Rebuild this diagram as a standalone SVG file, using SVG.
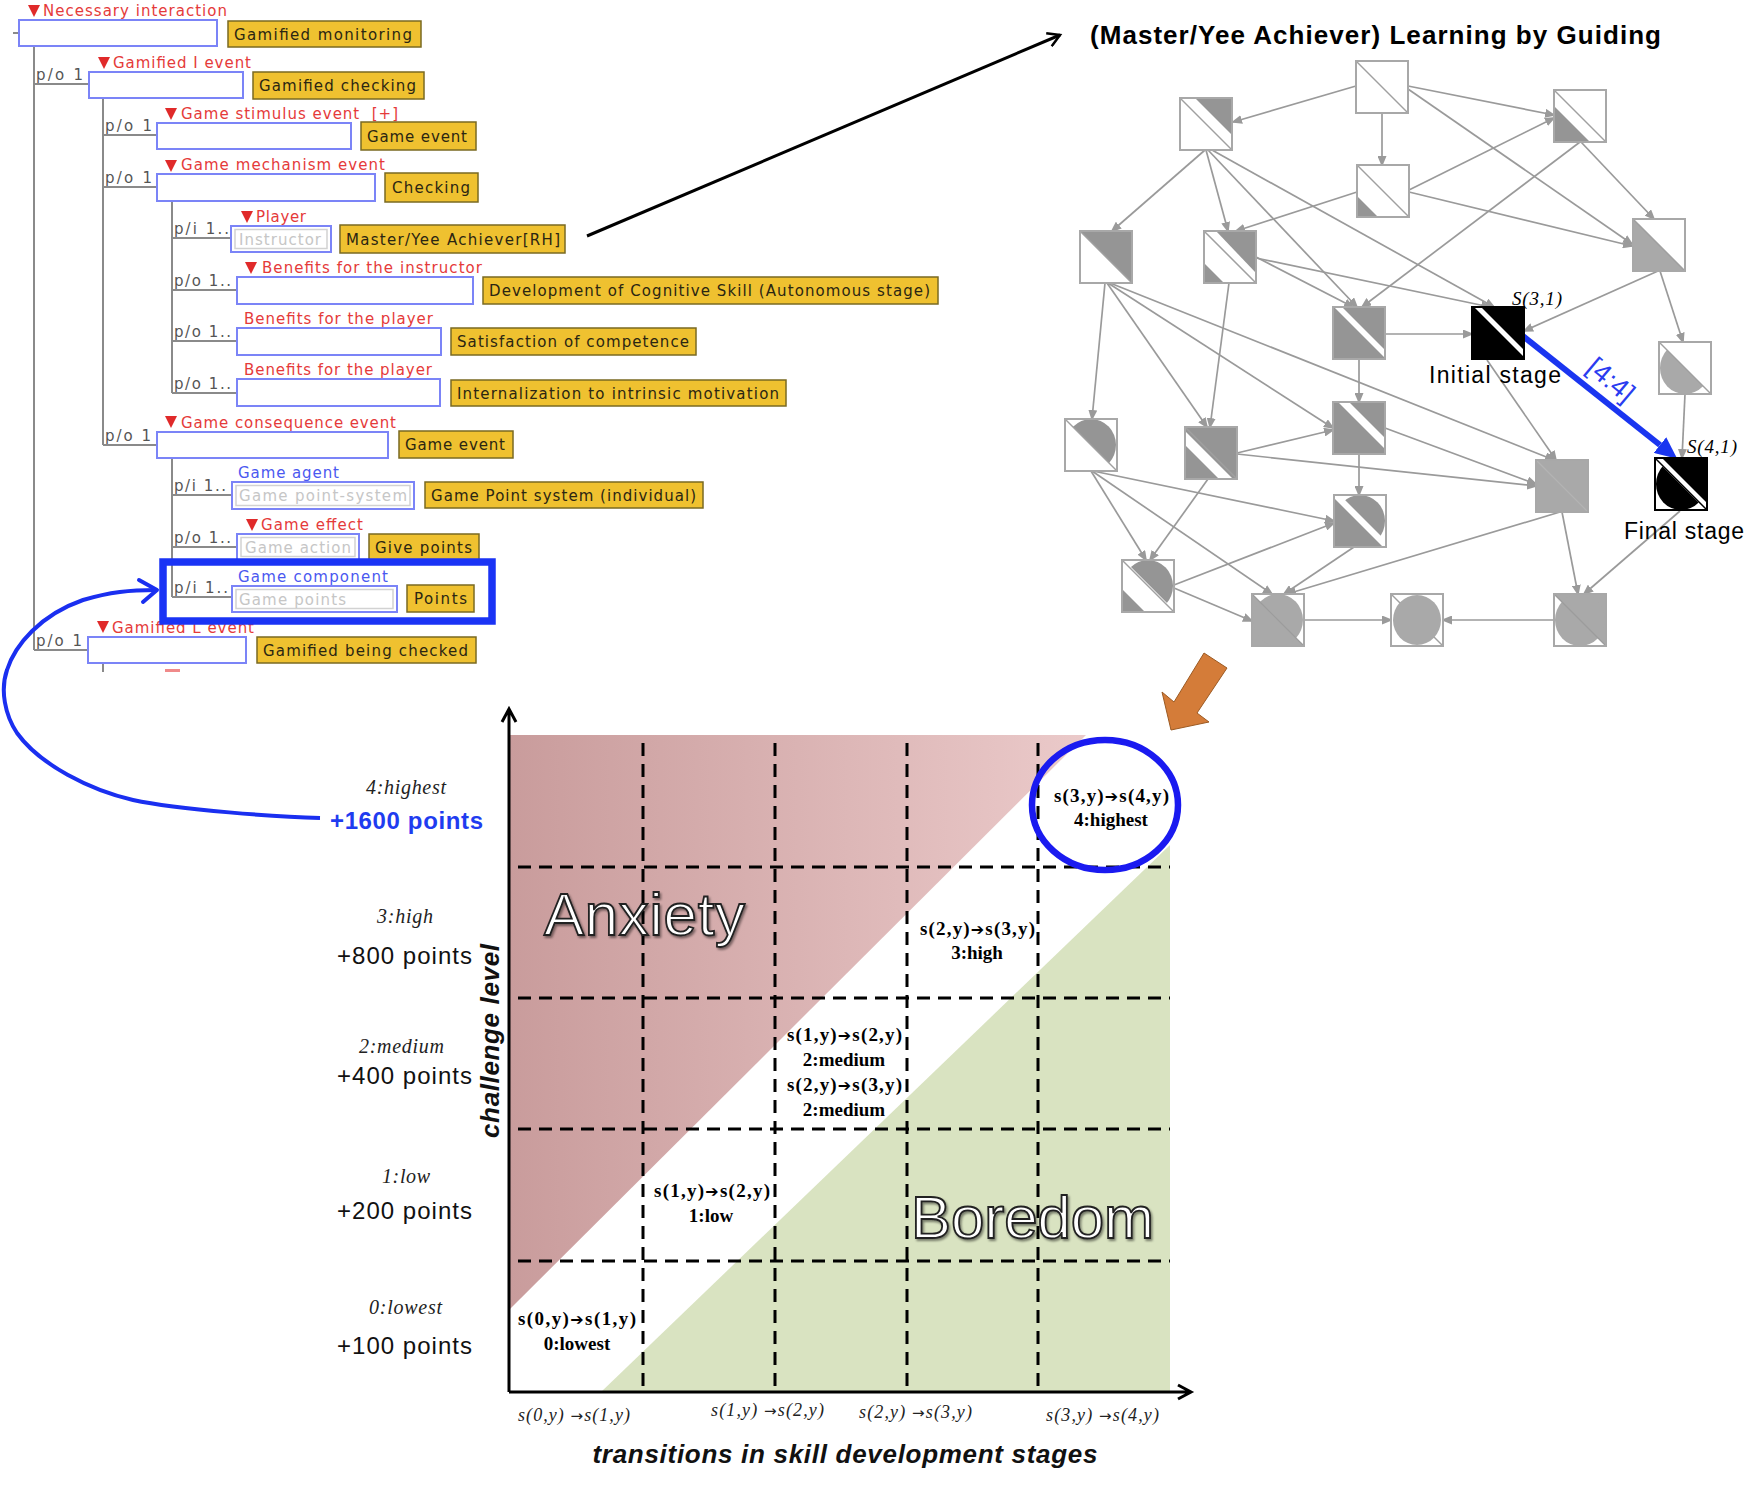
<svg xmlns="http://www.w3.org/2000/svg" width="1763" height="1493" viewBox="0 0 1763 1493">
<defs>
<style>
.tl{font-family:"DejaVu Sans","Liberation Sans",sans-serif;font-size:15px}
.red{fill:#e53a3a}
.blu{fill:#4a58f0}
.po{fill:#555}
.ybox{fill:#efc130;stroke:#7a6a22;stroke-width:1.5}
.ytx{fill:#2b2612}
.bbox{fill:#fff;stroke:#7b84f7;stroke-width:2}
.ibox{fill:#fff;stroke:#d2d2d2;stroke-width:1.5}
.itx{fill:#c6c6c6}
.tri{fill:#e02a2a}
.tline{stroke:#8a8a8a;stroke-width:2;fill:none}
.bg{fill:#fff}
.ol{fill:none;stroke:#a8a8a8;stroke-width:2}
.olk{fill:none;stroke:#000;stroke-width:2}
.dg{fill:#959595}
.lg{fill:#a9a9a9}
.bk{fill:#000}
.dl{stroke:#a0a0a0;stroke-width:1.5}
.dlk{stroke:#000;stroke-width:1.5}
.edge{stroke:#9a9a9a;stroke-width:1.7;fill:none;marker-end:url(#ga)}
.grid{stroke:#000;stroke-width:3;stroke-dasharray:13 8;fill:none}
.ser{font-family:"Liberation Serif","Times New Roman",serif}
.sans{font-family:"Liberation Sans",Arial,sans-serif}
.cell{font-family:"Liberation Serif","Times New Roman",serif;font-size:19px;font-weight:bold;fill:#000}
.arr{font-family:"DejaVu Sans",sans-serif;font-size:16px;font-weight:bold}
.arr2{font-family:"DejaVu Sans",sans-serif;font-size:15px;font-weight:normal;font-style:normal}
.ylab{font-family:"Liberation Serif","Times New Roman",serif;font-size:20px;font-style:italic;fill:#222}
.pts{font-family:"Liberation Sans",Arial,sans-serif;font-size:24px;fill:#111}
.xlab{font-family:"Liberation Serif","Times New Roman",serif;font-size:18px;font-style:italic;fill:#222}
.big{font-family:"Liberation Sans",Arial,sans-serif;font-size:60px;fill:#fff;stroke:#222;stroke-width:1.8}
</style>
<marker id="ga" markerUnits="userSpaceOnUse" markerWidth="11" markerHeight="9" refX="9" refY="4.5" orient="auto"><path d="M0,0 L11,4.5 L0,9 z" fill="#9a9a9a"/></marker>
<marker id="bluehead" markerUnits="userSpaceOnUse" markerWidth="22" markerHeight="20" refX="0" refY="10" orient="auto"><path d="M0,0 L22,10 L0,20 z" fill="#1a35f0"/></marker>
<marker id="blkopen" markerUnits="userSpaceOnUse" markerWidth="16" markerHeight="16" refX="13" refY="8" orient="auto"><path d="M1,1 L13,8 L1,15" fill="none" stroke="#000" stroke-width="2.5"/></marker>
<linearGradient id="pink" x1="0" y1="0" x2="1" y2="0"><stop offset="0" stop-color="#c99c9c"/><stop offset="1" stop-color="#ebcaca"/></linearGradient>
<filter id="sh" x="-5%" y="-5%" width="110%" height="120%"><feDropShadow dx="1.5" dy="2" stdDeviation="1.2" flood-color="#000" flood-opacity="0.45"/></filter>
<clipPath id="cUR"><polygon points="0,0 52,0 52,52"/></clipPath>
<clipPath id="cLL"><polygon points="0,0 0,52 52,52"/></clipPath>
<clipPath id="cUR6"><polygon points="6,0 52,0 52,46"/></clipPath>
<clipPath id="cUR2"><polygon points="2,0 52,0 52,50"/></clipPath>
<clipPath id="cLL1"><polygon points="0,1 0,52 51,52"/></clipPath>
</defs>
<rect width="1763" height="1493" fill="#fff"/>

<!-- ===== TREE ===== -->
<g id="tree-lines">
<path class="tline" d="M13,33 H19 M34,46 V650 M34,84 H89 M34,650 H88 M103,98 V445 M103,135 H157 M103,187 H157 M103,445 H157 M172,201 V393 M172,238 H231 M172,290 H237 M172,341 H237 M172,393 H237 M172,458 V597 M172,495 H232 M172,547 H237 M172,597 H232 M103,663 V672"/>
<rect x="165" y="669" width="15" height="3" fill="#f08a8a"/>
</g>
<g id="t-necessary" class="tl">
<polygon class="tri" points="28,5 40,5 34,17"/>
<text class="red" x="43" y="16" textLength="184">Necessary interaction</text>
<rect class="bbox" x="19" y="20" width="198" height="26"/>
<rect class="ybox" x="228" y="21" width="193" height="26"/>
<text class="ytx" x="234" y="40" textLength="178">Gamified monitoring</text>
</g>
<g id="t-gamified-i" class="tl">
<text class="po" x="36" y="80" textLength="47">p/o 1</text>
<polygon class="tri" points="98,57 110,57 104,69"/>
<text class="red" x="113" y="68" textLength="138">Gamified I event</text>
<rect class="bbox" x="89" y="72" width="154" height="26"/>
<rect class="ybox" x="253" y="72" width="171" height="27"/>
<text class="ytx" x="259" y="91" textLength="157">Gamified checking</text>
</g>
<g id="t-stimulus" class="tl">
<text class="po" x="105" y="131" textLength="47">p/o 1</text>
<polygon class="tri" points="165,108 177,108 171,120"/>
<text class="red" x="181" y="119" textLength="217" xml:space="preserve">Game stimulus event  [+]</text>
<rect class="bbox" x="157" y="123" width="194" height="26"/>
<rect class="ybox" x="361" y="122" width="115" height="28"/>
<text class="ytx" x="367" y="142" textLength="100">Game event</text>
</g>
<g id="t-mechanism" class="tl">
<text class="po" x="105" y="183" textLength="47">p/o 1</text>
<polygon class="tri" points="165,160 177,160 171,172"/>
<text class="red" x="181" y="170" textLength="204">Game mechanism event</text>
<rect class="bbox" x="157" y="174" width="218" height="27"/>
<rect class="ybox" x="385" y="173" width="93" height="29"/>
<text class="ytx" x="392" y="193" textLength="78">Checking</text>
</g>
<g id="t-player" class="tl">
<text class="po" x="174" y="234" textLength="55">p/i 1..</text>
<polygon class="tri" points="241,211 253,211 247,223"/>
<text class="red" x="256" y="222" textLength="50">Player</text>
<rect class="bbox" x="231" y="226" width="100" height="26"/>
<rect class="ibox" x="235" y="229.5" width="92" height="19"/>
<text class="itx" x="239" y="245" textLength="82">Instructor</text>
<rect class="ybox" x="340" y="225" width="225" height="28"/>
<text class="ytx" x="346" y="245" textLength="214">Master/Yee Achiever[RH]</text>
</g>
<g id="t-benefits-instructor" class="tl">
<text class="po" x="174" y="286" textLength="57">p/o 1..</text>
<polygon class="tri" points="245,262 257,262 251,274"/>
<text class="red" x="262" y="273" textLength="220">Benefits for the instructor</text>
<rect class="bbox" x="237" y="277" width="236" height="27"/>
<rect class="ybox" x="483" y="277" width="455" height="27"/>
<text class="ytx" x="489" y="296" textLength="441">Development of Cognitive Skill (Autonomous stage)</text>
</g>
<g id="t-benefits-player-1" class="tl">
<text class="po" x="174" y="337" textLength="57">p/o 1..</text>
<text class="red" x="244" y="324" textLength="189">Benefits for the player</text>
<rect class="bbox" x="237" y="328" width="204" height="27"/>
<rect class="ybox" x="451" y="328" width="245" height="27"/>
<text class="ytx" x="457" y="347" textLength="232">Satisfaction of competence</text>
</g>
<g id="t-benefits-player-2" class="tl">
<text class="po" x="174" y="389" textLength="57">p/o 1..</text>
<text class="red" x="244" y="375" textLength="188">Benefits for the player</text>
<rect class="bbox" x="237" y="379" width="203" height="27"/>
<rect class="ybox" x="451" y="380" width="335" height="26"/>
<text class="ytx" x="457" y="399" textLength="322">Internalization to intrinsic motivation</text>
</g>
<g id="t-consequence" class="tl">
<text class="po" x="105" y="441" textLength="46">p/o 1</text>
<polygon class="tri" points="165,416 177,416 171,428"/>
<text class="red" x="181" y="428" textLength="215">Game consequence event</text>
<rect class="bbox" x="157" y="432" width="231" height="26"/>
<rect class="ybox" x="399" y="431" width="114" height="27"/>
<text class="ytx" x="405" y="450" textLength="100">Game event</text>
</g>
<g id="t-agent" class="tl">
<text class="po" x="174" y="491" textLength="52">p/i 1..</text>
<text class="blu" x="238" y="478" textLength="101">Game agent</text>
<rect class="bbox" x="232" y="482" width="182" height="27"/>
<rect class="ibox" x="236" y="485.5" width="174" height="20"/>
<text class="itx" x="239" y="501" textLength="168">Game point-system</text>
<rect class="ybox" x="425" y="482" width="278" height="26"/>
<text class="ytx" x="431" y="501" textLength="265">Game Point system (individual)</text>
</g>
<g id="t-effect" class="tl">
<text class="po" x="174" y="543" textLength="57">p/o 1..</text>
<polygon class="tri" points="246,519 258,519 252,531"/>
<text class="red" x="261" y="530" textLength="102">Game effect</text>
<rect class="bbox" x="237" y="534" width="122" height="26"/>
<rect class="ibox" x="241" y="537.5" width="114" height="19"/>
<text class="itx" x="245" y="553" textLength="106">Game action</text>
<rect class="ybox" x="369" y="534" width="110" height="26"/>
<text class="ytx" x="375" y="553" textLength="97">Give points</text>
</g>
<g id="t-component" class="tl">
<text class="po" x="174" y="593" textLength="54">p/i 1..</text>
<text class="blu" x="238" y="582" textLength="150">Game component</text>
<rect class="bbox" x="232" y="586" width="165" height="26"/>
<rect class="ibox" x="236" y="589.5" width="157" height="19"/>
<text class="itx" x="239" y="605" textLength="107">Game points</text>
<rect class="ybox" x="407" y="585" width="67" height="27"/>
<text class="ytx" x="414" y="604" textLength="53">Points</text>
</g>
<g id="t-gamified-l" class="tl">
<text class="po" x="36" y="646" textLength="46">p/o 1</text>
<polygon class="tri" points="97,621 109,621 103,633"/>
<text class="red" x="112" y="633" textLength="142">Gamified L event</text>
<rect class="bbox" x="88" y="637" width="158" height="26"/>
<rect class="ybox" x="257" y="637" width="219" height="26"/>
<text class="ytx" x="263" y="656" textLength="205">Gamified being checked</text>
</g>
<g id="highlight">
<rect x="163" y="562" width="329" height="59" fill="none" stroke="#1a33f5" stroke-width="7.5"/>
</g>

<!-- ===== GRAPH ===== -->
<text id="graph-title" class="sans" x="1090" y="44" font-size="26" font-weight="bold" fill="#000" textLength="571">(Master/Yee Achiever) Learning by Guiding</text>

<g id="graph-edges">
<line class="edge" x1="1356" y1="86" x2="1233" y2="122"/>
<line class="edge" x1="1382" y1="113" x2="1382" y2="165"/>
<line class="edge" x1="1408" y1="86" x2="1554" y2="115"/>
<line class="edge" x1="1408" y1="89" x2="1632" y2="244"/>
<line class="edge" x1="1205" y1="150" x2="1112" y2="231"/>
<line class="edge" x1="1206" y1="150" x2="1228" y2="231"/>
<line class="edge" x1="1208" y1="150" x2="1357" y2="307"/>
<line class="edge" x1="1212" y1="150" x2="1494" y2="307"/>
<line class="edge" x1="1357" y1="192" x2="1236" y2="231"/>
<line class="edge" x1="1409" y1="190" x2="1554" y2="118"/>
<line class="edge" x1="1409" y1="192" x2="1632" y2="246"/>
<line class="edge" x1="1580" y1="142" x2="1362" y2="307"/>
<line class="edge" x1="1581" y1="142" x2="1654" y2="219"/>
<line class="edge" x1="1256" y1="257" x2="1353" y2="307"/>
<line class="edge" x1="1256" y1="258" x2="1490" y2="307"/>
<line class="edge" x1="1385" y1="334" x2="1472" y2="334"/>
<line class="edge" x1="1658" y1="271" x2="1524" y2="331"/>
<line class="edge" x1="1660" y1="271" x2="1683" y2="342"/>
<line class="edge" x1="1359" y1="360" x2="1359" y2="402"/>
<line class="edge" x1="1105" y1="283" x2="1092" y2="419"/>
<line class="edge" x1="1107" y1="283" x2="1207" y2="427"/>
<line class="edge" x1="1108" y1="283" x2="1333" y2="428"/>
<line class="edge" x1="1110" y1="283" x2="1554" y2="460"/>
<line class="edge" x1="1229" y1="283" x2="1210" y2="427"/>
<line class="edge" x1="1091" y1="471" x2="1146" y2="560"/>
<line class="edge" x1="1092" y1="471" x2="1272" y2="594"/>
<line class="edge" x1="1093" y1="471" x2="1334" y2="521"/>
<line class="edge" x1="1237" y1="453" x2="1333" y2="430"/>
<line class="edge" x1="1237" y1="454" x2="1536" y2="486"/>
<line class="edge" x1="1208" y1="479" x2="1150" y2="560"/>
<line class="edge" x1="1359" y1="454" x2="1359" y2="495"/>
<line class="edge" x1="1385" y1="428" x2="1536" y2="484"/>
<line class="edge" x1="1487" y1="360" x2="1556" y2="460"/>
<line class="edge" x1="1174" y1="585" x2="1334" y2="523"/>
<line class="edge" x1="1174" y1="588" x2="1252" y2="621"/>
<line class="edge" x1="1354" y1="547" x2="1284" y2="594"/>
<line class="edge" x1="1560" y1="512" x2="1287" y2="594"/>
<line class="edge" x1="1562" y1="512" x2="1578" y2="594"/>
<line class="edge" x1="1685" y1="394" x2="1682" y2="458"/>
<line class="edge" x1="1680" y1="511" x2="1584" y2="594"/>
<line class="edge" x1="1304" y1="620" x2="1391" y2="620"/>
<line class="edge" x1="1554" y1="620" x2="1443" y2="620"/>
<line x1="1523" y1="336" x2="1660" y2="445" stroke="#1a35f0" stroke-width="6" marker-end="url(#bluehead)"/>
</g>

<g id="n-top" transform="translate(1356,61)"><rect class="bg" width="52" height="52"/><line class="dl" x1="0" y1="0" x2="52" y2="52"/><rect class="ol" width="52" height="52"/></g>
<g id="n-a" transform="translate(1180,98)"><rect class="bg" width="52" height="52"/><polygon class="dg" points="15,0 52,0 52,37"/><line class="dl" x1="0" y1="0" x2="52" y2="52"/><rect class="ol" width="52" height="52"/></g>
<g id="n-f" transform="translate(1554,90)"><rect class="bg" width="52" height="52"/><polygon class="dg" points="0,16 0,52 36,52"/><line class="dl" x1="0" y1="0" x2="52" y2="52"/><rect class="ol" width="52" height="52"/></g>
<g id="n-b" transform="translate(1357,165)"><rect class="bg" width="52" height="52"/><polygon class="dg" points="0,31 0,52 21,52"/><line class="dl" x1="0" y1="0" x2="52" y2="52"/><rect class="ol" width="52" height="52"/></g>
<g id="n-c" transform="translate(1080,231)"><rect class="bg" width="52" height="52"/><polygon class="dg" points="0,0 52,0 52,52"/><line class="dl" x1="0" y1="0" x2="52" y2="52"/><rect class="ol" width="52" height="52"/></g>
<g id="n-d" transform="translate(1204,231)"><rect class="bg" width="52" height="52"/><polygon class="dg" points="12,0 52,0 52,42"/><polygon class="dg" points="0,32 0,52 20,52"/><line class="dl" x1="0" y1="0" x2="52" y2="52"/><rect class="ol" width="52" height="52"/></g>
<g id="n-g" transform="translate(1633,219)"><rect class="bg" width="52" height="52"/><polygon class="lg" points="0,0 0,52 52,52"/><line class="dl" x1="0" y1="0" x2="52" y2="52"/><rect class="ol" width="52" height="52"/></g>
<g id="n-e" transform="translate(1333,307)"><rect class="dg" width="52" height="52"/><polygon class="bg" points="1,0 9,0 52,43 52,51"/><rect class="ol" width="52" height="52"/></g>
<g id="n-s31" transform="translate(1472,307)"><rect class="bk" width="52" height="52"/><polygon class="bg" points="2,0 9,0 52,43 52,50"/><rect class="olk" width="52" height="52"/></g>
<g id="n-h" transform="translate(1659,342)"><rect class="bg" width="52" height="52"/><ellipse class="lg" cx="26" cy="26" rx="25" ry="26" clip-path="url(#cLL)"/><line class="dl" x1="0" y1="0" x2="52" y2="52"/><rect class="ol" width="52" height="52"/></g>
<g id="n-i" transform="translate(1065,419)"><rect class="bg" width="52" height="52"/><ellipse class="dg" cx="26" cy="26" rx="25" ry="26" clip-path="url(#cUR)"/><line class="dl" x1="0" y1="0" x2="52" y2="52"/><rect class="ol" width="52" height="52"/></g>
<g id="n-j" transform="translate(1185,427)"><rect class="dg" width="52" height="52"/><polygon class="bg" points="0,4 0,18 34,52 48,52"/><line class="dl" x1="0" y1="0" x2="52" y2="52"/><rect class="ol" width="52" height="52"/></g>
<g id="n-k" transform="translate(1333,402)"><rect class="dg" width="52" height="52"/><polygon class="bg" points="5,0 16,0 52,36 52,47"/><rect class="ol" width="52" height="52"/></g>
<g id="n-p" transform="translate(1536,460)"><rect class="lg" width="52" height="52"/><line x1="0" y1="0" x2="52" y2="52" stroke="#b4b4b4" stroke-width="1.2"/><rect class="ol" width="52" height="52" stroke="#b0b0b0"/></g>
<g id="n-s41" transform="translate(1655,458)"><rect class="bg" width="52" height="52"/><polygon class="bk" points="7,0 52,0 52,45"/><ellipse class="bk" cx="26" cy="26" rx="25" ry="26" clip-path="url(#cLL1)"/><line class="dlk" x1="0" y1="0" x2="52" y2="52"/><rect class="olk" width="52" height="52"/></g>
<g id="n-l" transform="translate(1334,495)"><rect class="bg" width="52" height="52"/><polygon class="dg" points="0,3 0,52 49,52"/><ellipse class="dg" cx="26" cy="26" rx="25" ry="26" clip-path="url(#cUR6)"/><rect class="ol" width="52" height="52"/></g>
<g id="n-m" transform="translate(1122,560)"><rect class="bg" width="52" height="52"/><ellipse class="dg" cx="26" cy="26" rx="25" ry="26" clip-path="url(#cUR2)"/><polygon class="dg" points="0,29 0,52 23,52"/><line class="dl" x1="0" y1="0" x2="52" y2="52"/><rect class="ol" width="52" height="52"/></g>
<g id="n-n" transform="translate(1252,594)"><rect class="bg" width="52" height="52"/><polygon class="lg" points="0,0 0,52 52,52"/><ellipse class="lg" cx="26" cy="26" rx="25" ry="26"/><line x1="0" y1="0" x2="52" y2="52" stroke="#9c9c9c" stroke-width="1.2"/><rect class="ol" width="52" height="52"/></g>
<g id="n-o" transform="translate(1391,594)"><rect class="bg" width="52" height="52"/><line class="dl" x1="0" y1="0" x2="52" y2="52"/><ellipse class="lg" cx="26" cy="26" rx="24" ry="25"/><rect class="ol" width="52" height="52"/></g>
<g id="n-q" transform="translate(1554,594)"><rect class="bg" width="52" height="52"/><polygon class="lg" points="0,0 52,0 52,52"/><ellipse class="lg" cx="26" cy="26" rx="25" ry="26"/><line x1="0" y1="0" x2="52" y2="52" stroke="#9c9c9c" stroke-width="1.2"/><rect class="ol" width="52" height="52"/></g>

<g id="graph-labels">
<text class="ser" x="1512" y="305" font-size="19" font-style="italic" textLength="50">S(3,1)</text>
<text class="sans" x="1429" y="383" font-size="23" fill="#000" textLength="132">Initial stage</text>
<text class="sans" x="1611" y="389" font-size="27" fill="#2a3cf0" text-anchor="middle" transform="rotate(40 1611 380)">[4:4]</text>
<text class="ser" x="1687" y="453" font-size="19" font-style="italic" textLength="50">S(4,1)</text>
<text class="sans" x="1624" y="539" font-size="23" fill="#000" textLength="120">Final stage</text>
</g>

<!-- ===== connectors between panels ===== -->
<g id="panel-connectors">
<line x1="587" y1="236" x2="1060" y2="35" stroke="#000" stroke-width="3" marker-end="url(#blkopen)"/>
<path d="M320,818 C280,817 180,810 133,800 C90,790 40,765 17,733 C5,715 0,690 7,670 C15,645 40,615 83,600 C110,592 130,590 156,590" fill="none" stroke="#1a2ff0" stroke-width="4"/>
<path d="M139,580 L157,590 L143,602" fill="none" stroke="#1a2ff0" stroke-width="4" stroke-linecap="round" stroke-linejoin="round"/>
<polygon id="orange-arrow" points="1204,653 1227,668 1197,713 1209,722 1171,730 1162,692 1174,702" fill="#d47c39" stroke="#9c5a22" stroke-width="1"/>
</g>

<!-- ===== CHART ===== -->
<g id="chart">
<polygon points="510,735 1086,735 510,1309" fill="url(#pink)"/>
<polygon points="601,1392 1170,845 1170,1392" fill="#d9e3c1"/>
<path class="grid" d="M643,743 V1392 M775,743 V1392 M907,743 V1392 M1038,743 V1392 M518,867 H1170 M518,998 H1170 M518,1129 H1170 M518,1261 H1170"/>
<path d="M509,1392 V710 M502,722 L509,709 L516,722" fill="none" stroke="#000" stroke-width="3"/>
<path d="M509,1392 H1190 M1178,1385 L1191,1392 L1178,1399" fill="none" stroke="#000" stroke-width="3"/>
<text class="big" x="544" y="935" textLength="201" filter="url(#sh)">Anxiety</text>
<text class="big" x="911" y="1238" textLength="243" filter="url(#sh)">Boredom</text>
<ellipse cx="1105" cy="805" rx="73" ry="65" fill="none" stroke="#1a1af0" stroke-width="6.5"/>
<text class="cell" x="1054" y="802" textLength="115">s(3,y)<tspan class="arr">➔</tspan>s(4,y)</text>
<text class="cell" x="1111" y="826" text-anchor="middle">4:highest</text>
<text class="cell" x="920" y="935" textLength="115">s(2,y)<tspan class="arr">➔</tspan>s(3,y)</text>
<text class="cell" x="977" y="959" text-anchor="middle">3:high</text>
<text class="cell" x="787" y="1041" textLength="115">s(1,y)<tspan class="arr">➔</tspan>s(2,y)</text>
<text class="cell" x="844" y="1066" text-anchor="middle">2:medium</text>
<text class="cell" x="787" y="1091" textLength="115">s(2,y)<tspan class="arr">➔</tspan>s(3,y)</text>
<text class="cell" x="844" y="1116" text-anchor="middle">2:medium</text>
<text class="cell" x="654" y="1197" textLength="116">s(1,y)<tspan class="arr">➔</tspan>s(2,y)</text>
<text class="cell" x="711" y="1222" text-anchor="middle">1:low</text>
<text class="cell" x="518" y="1325" textLength="118">s(0,y)<tspan class="arr">➔</tspan>s(1,y)</text>
<text class="cell" x="577" y="1350" text-anchor="middle">0:lowest</text>
<text class="xlab" x="518" y="1421" textLength="112">s(0,y) <tspan class="arr2">→</tspan>s(1,y)</text>
<text class="xlab" x="711" y="1416" textLength="113">s(1,y) <tspan class="arr2">→</tspan>s(2,y)</text>
<text class="xlab" x="859" y="1418" textLength="113">s(2,y) <tspan class="arr2">→</tspan>s(3,y)</text>
<text class="xlab" x="1046" y="1421" textLength="113">s(3,y) <tspan class="arr2">→</tspan>s(4,y)</text>
<text class="sans" x="845" y="1463" font-size="26" font-weight="bold" font-style="italic" fill="#111" text-anchor="middle" textLength="505">transitions in skill development stages</text>
<text class="sans" font-size="26" font-weight="bold" font-style="italic" fill="#111" text-anchor="middle" textLength="194" transform="translate(499,1041) rotate(-90)">challenge level</text>
<text class="ylab" x="366" y="794" fill="#2a3cf0" textLength="80">4:highest</text>
<text class="sans" x="330" y="829" font-size="24" font-weight="bold" fill="#1f3cf0" textLength="153">+1600 points</text>
<text class="ylab" x="377" y="923" textLength="56">3:high</text>
<text class="pts" x="337" y="964" textLength="135">+800 points</text>
<text class="ylab" x="359" y="1053" textLength="85">2:medium</text>
<text class="pts" x="337" y="1084" textLength="135">+400 points</text>
<text class="ylab" x="382" y="1183" textLength="48">1:low</text>
<text class="pts" x="337" y="1219" textLength="135">+200 points</text>
<text class="ylab" x="369" y="1314" textLength="73">0:lowest</text>
<text class="pts" x="337" y="1354" textLength="135">+100 points</text>
</g>
</svg>
